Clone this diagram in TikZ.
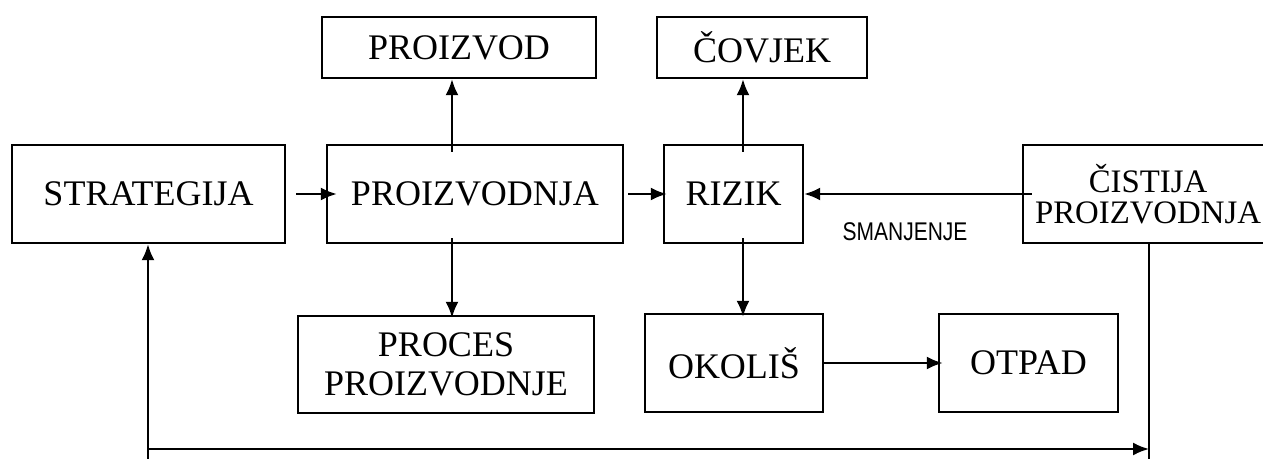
\documentclass[tikz,border=0pt]{standalone}
\usepackage{fontspec}
\setmainfont{Liberation Serif}
\newfontfamily\uskisans[FakeStretch=0.82]{Liberation Sans}
\usetikzlibrary{arrows.meta}
\tikzset{
  blok/.style={draw, line width=1.2pt, align=center, inner sep=0pt, font=\fontsize{18}{19.5}\selectfont},
  strelica/.style={-{Latex[length=8pt,width=6.5pt]}, line width=1.1pt},
  veza/.style={line width=1.1pt},
}

\begin{document}
\begin{tikzpicture}[x=0.5pt,y=-0.5pt]
		%%%%% START %%%%%
		\useasboundingbox (0,0) rectangle (1263,459);
		\clip (0,0) rectangle (1263,459);
		
		% gornji red
		\node[blok, minimum width=137pt, minimum height=30.5pt] (proizvod) at (459,47.5) {PROIZVOD};
		\node[blok, minimum width=105pt, minimum height=30.5pt] (covjek) at (762,47.5) {ČOVJEK};
		
		% srednji red
		\node[blok, minimum width=136.5pt, minimum height=49pt] (strategija) at (148.5,194) {STRATEGIJA};
		\node[blok, minimum width=148pt, minimum height=49pt] (proizvodnja) at (475,194) {PROIZVODNJA};
		\node[blok, minimum width=69.5pt, minimum height=49pt] (rizik) at (733.5,194) {RIZIK};
		\node[blok, minimum width=125pt, minimum height=49pt, font=\fontsize{16.4}{15.5}\selectfont] (cistija) at (1148,194) {ČISTIJA\\PROIZVODNJA};
		\node[font=\uskisans\fontsize{12.8}{13}\selectfont, inner sep=0pt] (smanjenje) at (905,232) {SMANJENJE};
		
		% donji red
		\node[blok, minimum width=148pt, minimum height=48.5pt] (proces) at (446,364.5) {PROCES\\PROIZVODNJE};
		\node[blok, minimum width=89pt, minimum height=49pt] (okolis) at (734,363) {OKOLIŠ};
		\node[blok, minimum width=89.5pt, minimum height=49pt] (otpad) at (1028.5,363) {OTPAD};
		
		% strelice
		\draw[strelica, shorten <=5pt, shorten >=-5.5pt] (strategija.east) -- (proizvodnja.west);
		\draw[strelica, shorten <=2pt, shorten >=-2pt] (proizvodnja.east) -- (rizik.west);
		\draw[strelica, shorten <=-5pt] (cistija.west) -- (rizik.east);
		\draw[strelica, shorten >=-2.5pt] (okolis.east) -- (otpad.west);
		\draw[strelica, shorten <=-4pt] ([xshift=-11.5pt]proizvodnja.north) -- ([xshift=-11.5pt]proizvodnja.north |- proizvod.south);
		\draw[strelica, shorten <=-3pt, shorten >=-1.5pt] ([xshift=-11.5pt]proizvodnja.south) -- ([xshift=-11.5pt]proizvodnja.south |- proces.north);
		\draw[strelica, shorten <=-4pt] ([xshift=4.75pt]rizik.north) -- ([xshift=4.75pt]rizik.north |- covjek.south);
		\draw[strelica, shorten <=-3pt, shorten >=-2pt] ([xshift=4.75pt]rizik.south) -- ([xshift=4.75pt]rizik.south |- okolis.north);
		
		% povratna veza
		\coordinate (dolje-l) at (148,459);
		\coordinate (kut-l) at (148,449);
		\coordinate (kut-d) at (1149,449);
		\coordinate (dolje-d) at (1149,459);
		\draw[strelica] (dolje-l) -- (dolje-l |- strategija.south);
		\draw[strelica] (kut-l) -- (kut-d);
		\draw[veza] (dolje-d |- cistija.south) -- (dolje-d);
		%%%%% END %%%%%
\end{tikzpicture}
\end{document}
